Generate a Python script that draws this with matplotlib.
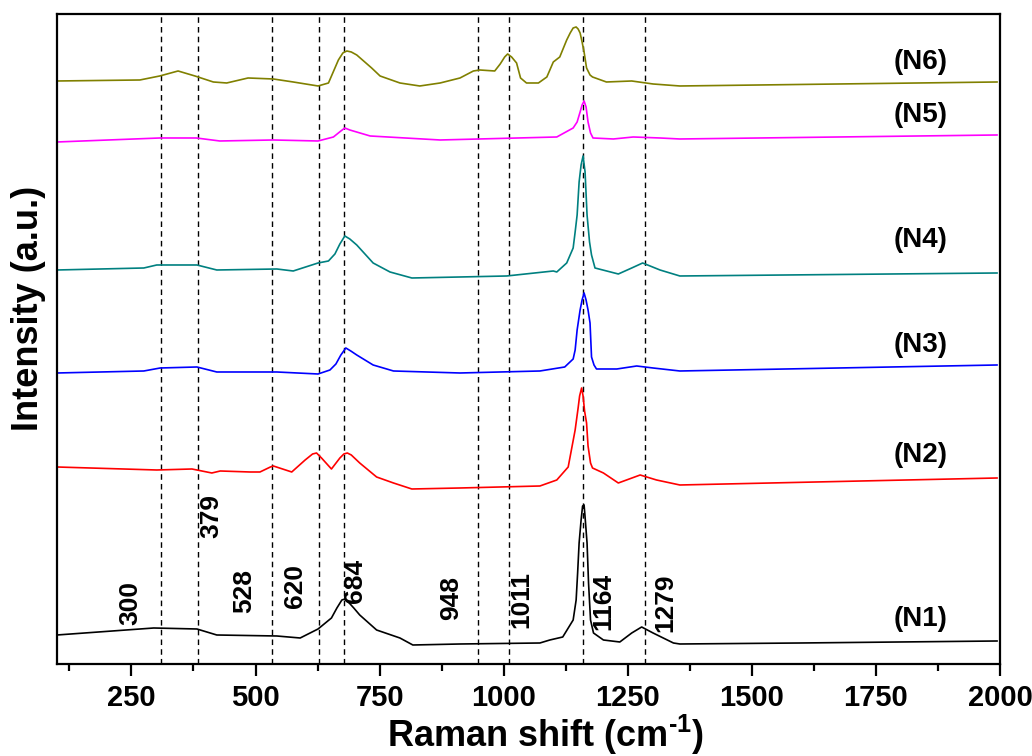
import matplotlib
matplotlib.use("Agg")
import matplotlib.pyplot as plt

plt.rcParams['font.family'] = ['Liberation Sans', 'DejaVu Sans']
plt.rcParams['font.weight'] = 'bold'
plt.rcParams['mathtext.fontset'] = 'custom'
plt.rcParams['mathtext.rm'] = 'Liberation Sans:bold'
plt.rcParams['mathtext.bf'] = 'Liberation Sans:bold'

# spectra: Raman shift (cm-1) and stacked intensity (a.u.)
n1_x = [100, 295, 382, 422, 543, 590, 626, 653, 664, 674, 680, 687, 698, 710, 744, 791, 817,
        912, 1073, 1093, 1119, 1140, 1146, 1149, 1152, 1156, 1159, 1162, 1164, 1168, 1171,
        1175, 1181, 1201, 1234, 1258, 1278, 1301, 1342, 1355, 1597, 1994]
n1_y = [29, 36, 35, 29, 28, 26, 35, 46, 56, 64, 65, 62, 56, 49, 34, 26, 19,
        20, 21, 24, 27, 44, 64, 91, 121, 144, 158, 159, 147, 121, 81,
        44, 31, 24, 22, 31, 37, 31, 21, 20, 21, 23]

n2_x = [100, 301, 372, 412, 429, 489, 509, 530, 536, 573, 600, 615, 623, 633, 653, 670, 678,
        685, 693, 710, 744, 778, 815, 912, 1073, 1107, 1130, 1144, 1150, 1153, 1157, 1160,
        1163, 1167, 1170, 1175, 1179, 1201, 1231, 1275, 1308, 1355, 1994]
n2_y = [197, 194, 195, 191, 193, 192, 192, 197, 198, 192, 204, 210, 211, 206, 195, 206, 210,
        211, 209, 201, 187, 181, 175, 176, 178, 184, 197, 234, 256, 268, 276, 268,
        253, 241, 218, 201, 196, 191, 181, 189, 184, 179, 186]

n3_x = [100, 275, 308, 382, 422, 543, 626, 650, 662, 672, 682, 692, 704, 737, 778, 912,
        1073, 1123, 1140, 1144, 1148, 1154, 1158, 1162, 1166, 1170, 1174, 1177, 1182, 1187,
        1228, 1268, 1301, 1355, 1994]
n3_y = [291, 293, 296, 297, 292, 292, 290, 294, 300, 309, 316, 313, 309, 299, 293, 291,
        293, 297, 305, 314, 334, 354, 364, 371, 364, 354, 341, 307, 299, 295,
        295, 298, 296, 293, 299]

n4_x = [100, 275, 301, 382, 422, 543, 576, 626, 647, 660, 670, 680, 690, 704, 737, 771, 815,
        912, 1006, 1100, 1107, 1127, 1140, 1144, 1148, 1152, 1156, 1160, 1164, 1168, 1173,
        1177, 1184, 1231, 1258, 1280, 1315, 1355, 1994]
n4_y = [394, 396, 399, 399, 394, 395, 393, 401, 403, 410, 420, 428, 425, 419, 401, 392, 386,
        387, 388, 393, 392, 401, 416, 432, 449, 482, 499, 508, 492, 449, 422,
        409, 396, 390, 396, 401, 394, 388, 391]

n5_x = [100, 307, 381, 428, 536, 626, 657, 672, 680, 690, 731, 872, 1107, 1140, 1148, 1154,
        1158, 1162, 1166, 1170, 1175, 1180, 1221, 1261, 1315, 1355, 1994]
n5_y = [522, 526, 526, 523, 524, 523, 527, 533, 536, 534, 528, 524, 527, 536, 542, 552,
        559, 563, 557, 542, 531, 526, 525, 527, 526, 525, 529]

n6_x = [100, 267, 307, 344, 378, 415, 442, 485, 536, 576, 626, 647, 667, 676, 684, 693, 704,
        734, 751, 791, 831, 872, 912, 939, 952, 982, 993, 1002, 1008, 1016, 1026, 1034, 1046,
        1070, 1087, 1100, 1113, 1127, 1134, 1140, 1146, 1150, 1154, 1158, 1162, 1167, 1174,
        1179, 1207, 1258, 1301, 1355, 1994]
n6_y = [583, 584, 588, 593, 588, 582, 581, 586, 585, 582, 578, 581, 604, 611, 613, 612, 609,
        596, 588, 581, 578, 581, 586, 593, 594, 593, 600, 607, 610, 607, 601, 586, 581,
        581, 587, 602, 607, 624, 631, 636, 637, 635, 631, 622, 612, 596, 589,
        587, 582, 583, 580, 578, 582]

series = [(n1_x, n1_y, 'black', '(N1)', 45),
          (n2_x, n2_y, '#ff0000', '(N2)', 209),
          (n3_x, n3_y, '#0000ff', '(N3)', 319),
          (n4_x, n4_y, '#008080', '(N4)', 424),
          (n5_x, n5_y, '#ff00ff', '(N5)', 549),
          (n6_x, n6_y, '#808000', '(N6)', 602)]

# band positions (dashed guides) and their labels
band_x = [309, 384, 533, 627, 678, 949, 1010, 1159, 1285]
band_txt = ['300', '379', '528', '620', '684', '948', '1011', '1164', '1279']
txt_x = [247, 412, 477, 580, 700, 895, 1036, 1201, 1325]
txt_y = [39, 126, 51, 56, 61, 44, 36, 34, 32]

fig = plt.figure(figsize=(10.32, 7.56), dpi=100)
ax = fig.add_axes([0.0552, 0.1217, 0.9138, 0.8598])

for bx in band_x:
    ax.axvline(bx, color='black', lw=1.0, ls=(0, (4, 3)), zorder=1)

for xs, ys, col, name, ly in series:
    ax.plot(xs, ys, color=col, lw=1.2, zorder=2)
    ax.text(1840, ly, name, fontsize=20, fontweight='bold', ha='center', va='center')

for t, x, y in zip(band_txt, txt_x, txt_y):
    ax.text(x, y, t, rotation=90, fontsize=19, fontweight='bold', ha='center', va='bottom')

ax.set_xlim(100, 2000)
ax.set_ylim(0, 650)
ax.set_xticks([250, 500, 750, 1000, 1250, 1500, 1750, 2000])
ax.set_xticks(range(125, 2000, 250), minor=True)
ax.set_yticks([])
ax.tick_params(axis='x', which='major', direction='out', length=8.5, width=1.6,
               labelsize=21, pad=6)
ax.tick_params(axis='x', which='minor', direction='out', length=5, width=1.6)
for lbl in ax.get_xticklabels():
    lbl.set_fontweight('bold')
for s in ax.spines.values():
    s.set_linewidth(1.6)

# axis titles placed by hand to match the original layout
fig.text(546 / 1032, 1 - 747 / 756, 'Raman shift (cm$^{\\mathrm{\\text{-1}}}$)', fontsize=26,
         fontweight='bold', ha='center', va='baseline')
fig.text(29 / 1032, 1 - 308 / 756, 'Intensity (a.u.)', fontsize=26, fontweight='bold',
         rotation=90, ha='center', va='center')

fig.savefig('out.png', dpi=100)
